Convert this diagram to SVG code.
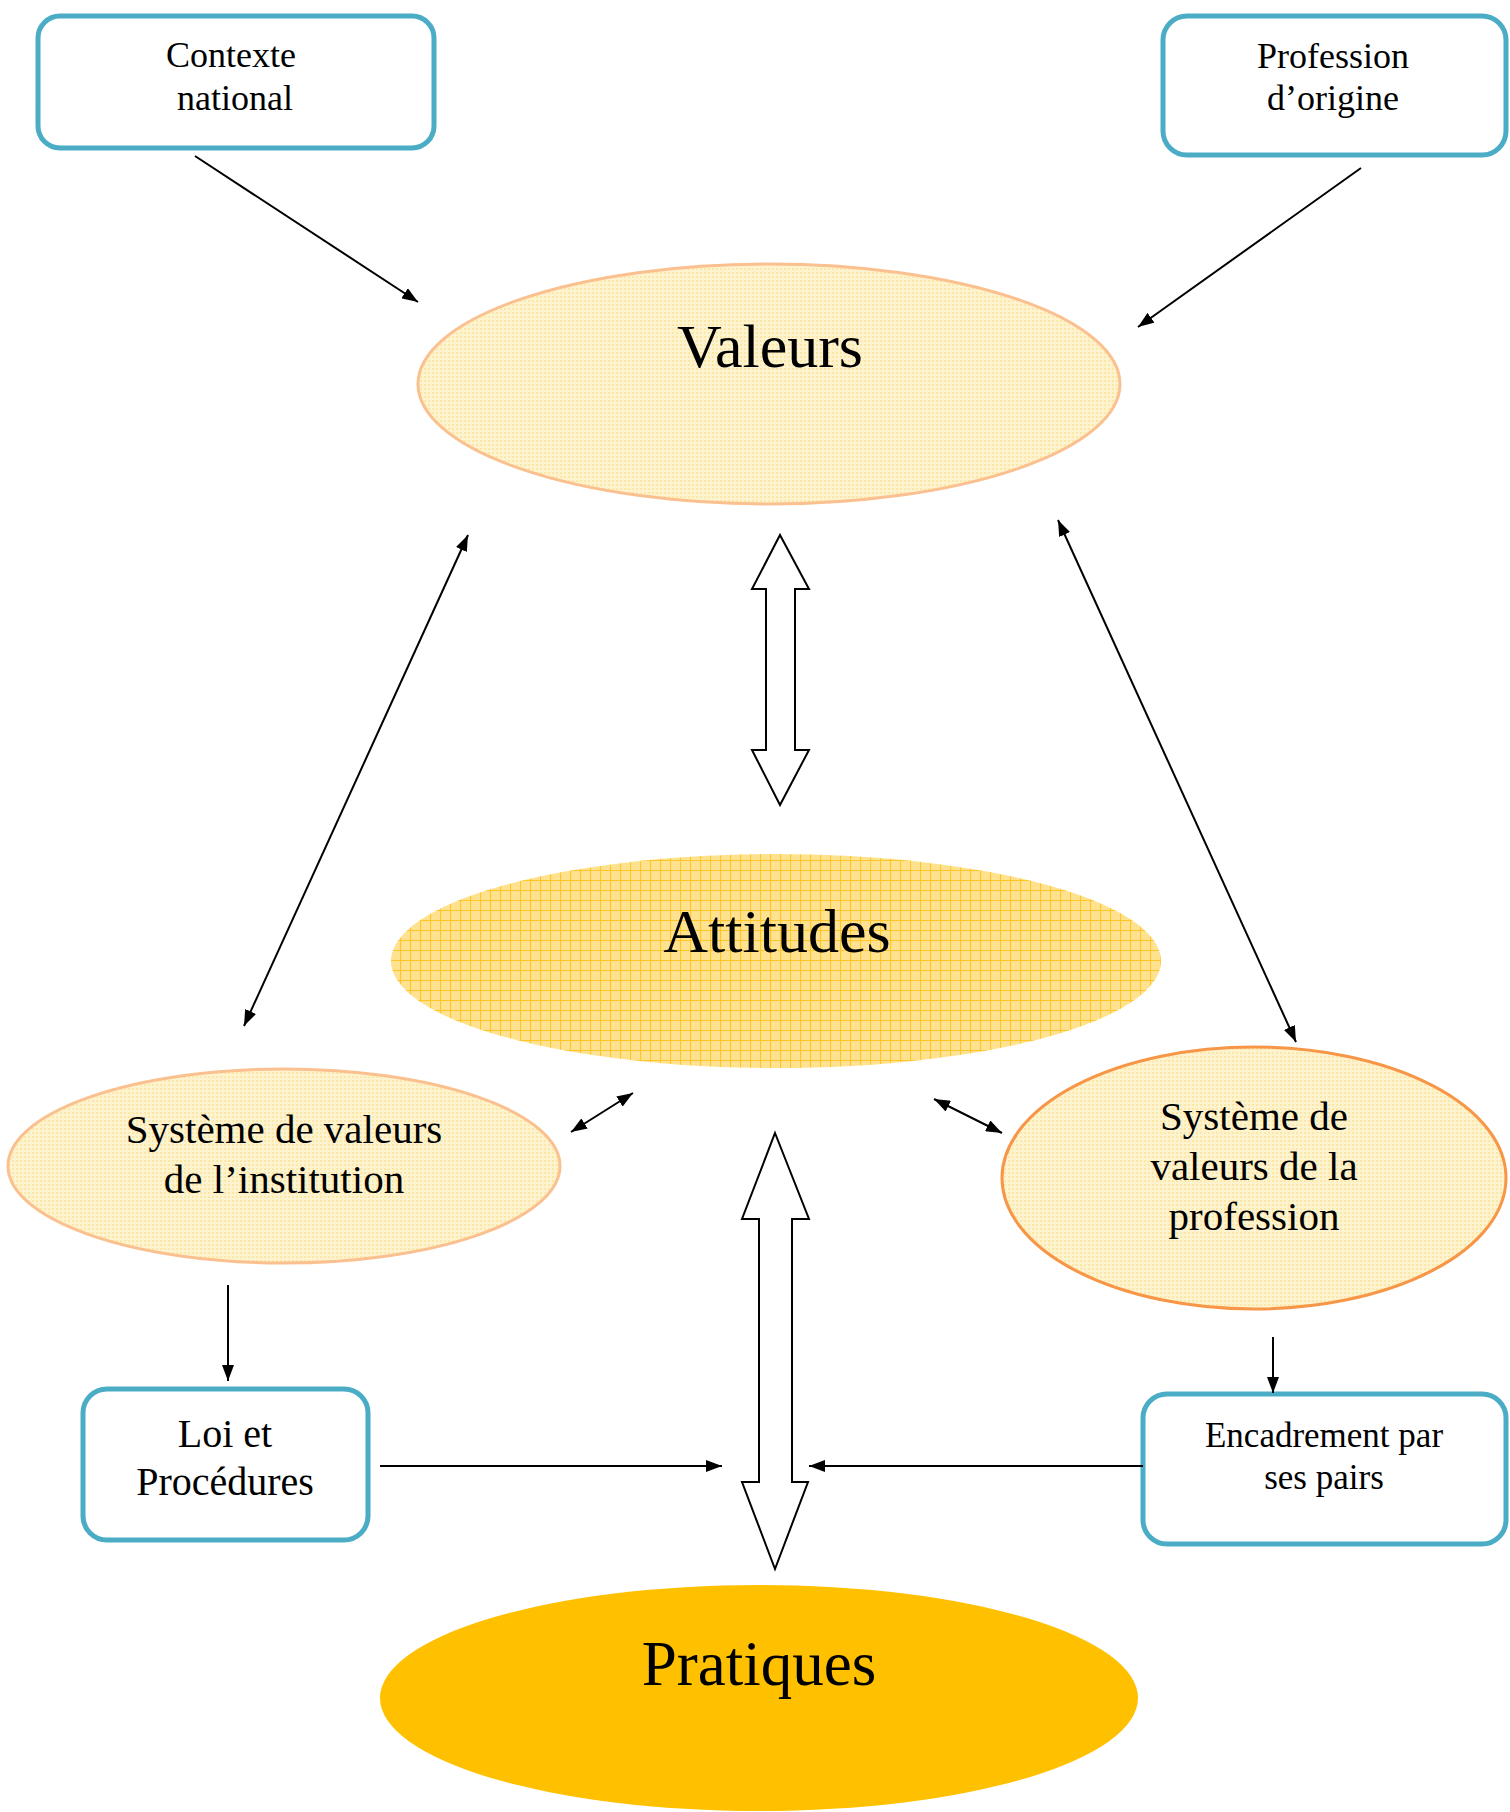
<svg xmlns="http://www.w3.org/2000/svg" width="1510" height="1812" viewBox="0 0 1510 1812">
<style>
  .box { fill: #ffffff; stroke: #4BACC6; stroke-width: 5; }
  .t { font-family: "Liberation Serif", "Times New Roman", serif; fill: #000; text-anchor: middle; }
  .con { stroke: #000; stroke-width: 2; fill: none; }
  .big { fill: #ffffff; stroke: #000; stroke-width: 2; stroke-linejoin: miter; }
</style>
<defs>
  <marker id="ah" viewBox="0 0 16 12" refX="16" refY="6" markerWidth="16" markerHeight="12" markerUnits="userSpaceOnUse" orient="auto-start-reverse">
    <path d="M0,0 L16,6 L0,12 Z" fill="#000"/>
  </marker>
  <pattern id="dots" width="4" height="4" patternUnits="userSpaceOnUse">
    <rect width="4" height="4" fill="#FEF3CF"/>
    <rect width="2" height="2" fill="#FDE7A6"/>
  </pattern>
  <pattern id="grid" width="10" height="10" patternUnits="userSpaceOnUse">
    <rect width="10" height="10" fill="#FFE290"/>
    <path d="M0,0.5 H10 M0.5,0 V10" stroke="#FFC629" stroke-width="1.2"/>
  </pattern>
</defs>

<g id="node-contexte">
  <rect class="box" x="38" y="16" width="396" height="132" rx="22"/>
  <text class="t" x="231" y="67" font-size="36">Contexte</text>
  <text class="t" x="235" y="110" font-size="36">national</text>
</g>

<g id="node-profession-origine">
  <rect class="box" x="1163" y="16" width="343" height="139" rx="24"/>
  <text class="t" x="1333" y="68" font-size="36">Profession</text>
  <text class="t" x="1333" y="110" font-size="36">d’origine</text>
</g>

<g id="node-valeurs">
  <ellipse cx="769" cy="384" rx="351" ry="120" fill="url(#dots)" stroke="#FAC08F" stroke-width="3"/>
  <text class="t" x="770" y="367" font-size="62">Valeurs</text>
</g>

<g id="node-attitudes">
  <ellipse cx="776" cy="961" rx="385" ry="107" fill="url(#grid)"/>
  <text class="t" x="777" y="952" font-size="62">Attitudes</text>
</g>

<g id="node-systeme-institution">
  <ellipse cx="284" cy="1166" rx="276" ry="97" fill="url(#dots)" stroke="#FAC08F" stroke-width="3"/>
  <text class="t" x="284" y="1143" font-size="41">Système de valeurs</text>
  <text class="t" x="284" y="1193" font-size="41">de l’institution</text>
</g>

<g id="node-systeme-profession">
  <ellipse cx="1254" cy="1178" rx="252" ry="131" fill="url(#dots)" stroke="#F79646" stroke-width="3"/>
  <text class="t" x="1254" y="1130" font-size="41">Système de</text>
  <text class="t" x="1254" y="1180" font-size="41">valeurs de la</text>
  <text class="t" x="1254" y="1230" font-size="41">profession</text>
</g>

<g id="node-loi">
  <rect class="box" x="83" y="1389" width="285" height="151" rx="24"/>
  <text class="t" x="225" y="1447" font-size="40">Loi et</text>
  <text class="t" x="225" y="1495" font-size="40">Procédures</text>
</g>

<g id="node-encadrement">
  <rect class="box" x="1143" y="1394" width="363" height="150" rx="24"/>
  <text class="t" x="1324" y="1447" font-size="35">Encadrement par</text>
  <text class="t" x="1324" y="1489" font-size="35">ses pairs</text>
</g>

<g id="node-pratiques">
  <ellipse cx="759" cy="1698" rx="379" ry="113" fill="#FFC000"/>
  <text class="t" x="759" y="1685" font-size="63">Pratiques</text>
</g>

<g id="connectors">
  <line class="con" x1="195" y1="156" x2="418" y2="302" marker-end="url(#ah)"/>
  <line class="con" x1="1361" y1="168" x2="1138" y2="327" marker-end="url(#ah)"/>
  <line class="con" x1="468" y1="535" x2="244" y2="1026" marker-start="url(#ah)" marker-end="url(#ah)"/>
  <line class="con" x1="1058" y1="520" x2="1296" y2="1042" marker-start="url(#ah)" marker-end="url(#ah)"/>
  <line class="con" x1="633" y1="1093" x2="571" y2="1132" marker-start="url(#ah)" marker-end="url(#ah)"/>
  <line class="con" x1="934" y1="1099" x2="1002" y2="1133" marker-start="url(#ah)" marker-end="url(#ah)"/>
  <line class="con" x1="228" y1="1285" x2="228" y2="1381" marker-end="url(#ah)"/>
  <line class="con" x1="1273" y1="1337" x2="1273" y2="1393" marker-end="url(#ah)"/>
  <line class="con" x1="380" y1="1466" x2="722" y2="1466" marker-end="url(#ah)"/>
  <line class="con" x1="1143" y1="1466" x2="809" y2="1466" marker-end="url(#ah)"/>
  <polygon class="big" points="780,535 809,589 795,589 795,750 809,750 780,805 752,750 766,750 766,589 752,589"/>
  <polygon class="big" points="775,1133 809,1219 792,1219 792,1482 808,1482 775,1569 742,1482 759,1482 759,1219 742,1219"/>
</g>
</svg>
